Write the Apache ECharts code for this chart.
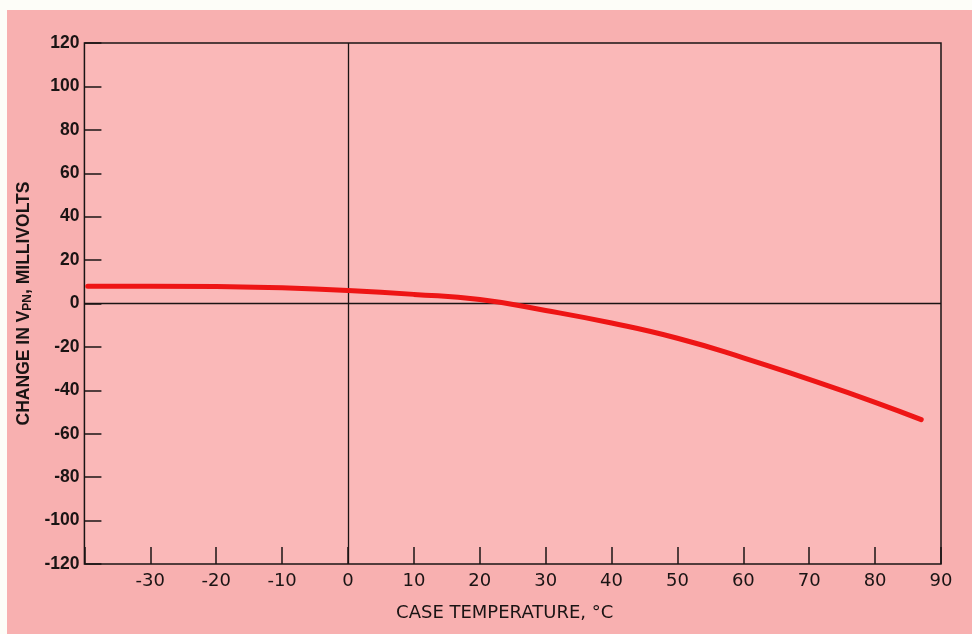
<!DOCTYPE html>
<html><head><meta charset="utf-8">
<script src="https://cdn.jsdelivr.net/npm/echarts@6/dist/echarts.min.js"></script>
<style>
html,body{margin:0;padding:0;background:#fdfdf8;width:972px;height:634px;overflow:hidden;}
#c{position:absolute;left:7px;top:10px;width:965px;height:624px;}
</style></head><body>
<div id="c"></div>
<script>
const temps = [-39.5,-30,-20,-10,0,10,20,30,40,50,60,70,80,87];
const deltaV = [8,8,7.8,7.2,6,4.2,1.8,-3.2,-9,-16,-25,-35,-45.5,-53.5];
const xTickLabels = ['-30','-20','-10','0','10','20','30','40','50','60','70','80','90'];
const yTickLabels = ['-120','-100','-80','-60','-40','-20','0','20','40','60','80','100','120'];

const chart = echarts.init(document.getElementById('c'));
const ink = '#1a1414';
const boldFont = 'Liberation Sans';
chart.setOption({
  backgroundColor: '#f8b0b0',
  animation: false,
  grid: {left: 75, right: 31, top: 33, bottom: 70, show: true, borderColor: ink, borderWidth: 1.5, backgroundColor: '#fab8b8'},
  xAxis: {
    type: 'value', min: -40, max: 90, interval: 10,
    axisLine: {show: false, onZero: false},
    axisTick: {show: true, inside: true, length: 17, lineStyle: {color: ink, width: 1.5}},
    splitLine: {show: false},
    axisLabel: {color: ink, fontSize: 18, fontFamily: 'DejaVu Sans', margin: 8,
      formatter: v => xTickLabels.includes(String(v)) ? String(v) : ''},
    name: 'CASE TEMPERATURE, °C', nameLocation: 'middle', nameGap: 40,
    nameTextStyle: {color: ink, fontSize: 18, fontFamily: 'DejaVu Sans', padding: [0, 16, 0, 0]}
  },
  yAxis: {
    type: 'value', min: -120, max: 120, interval: 20,
    axisLine: {show: false, onZero: false},
    axisTick: {show: true, inside: true, length: 17, lineStyle: {color: ink, width: 1.5}},
    splitLine: {show: false},
    axisLabel: {color: ink, fontSize: 17.5, fontWeight: 'bold', fontFamily: boldFont, margin: 5,
      formatter: v => yTickLabels.includes(String(v)) ? String(v) : ''},
    name: '{a|CHANGE IN V}{s|PN}{a|, MILLIVOLTS}', nameLocation: 'middle', nameGap: 42, nameRotate: 90,
    nameTextStyle: {rich: {
      a: {color: ink, fontSize: 17.5, fontWeight: 'bold', fontFamily: boldFont},
      s: {color: ink, fontSize: 12, fontWeight: 'bold', fontFamily: boldFont, verticalAlign: 'bottom', padding: [7,0,0,0]}
    }}
  },
  series: [{
    type: 'line', smooth: true, showSymbol: false,
    data: temps.map((t, i) => [t, deltaV[i]]),
    lineStyle: {color: '#ee1515', width: 5, cap: 'round'},
    z: 5,
    markLine: {
      silent: true, symbol: 'none', label: {show: false},
      lineStyle: {color: ink, width: 1.3, type: 'solid'},
      data: [{xAxis: 0}, {yAxis: 0}]
    }
  }]
});
</script></body></html>
